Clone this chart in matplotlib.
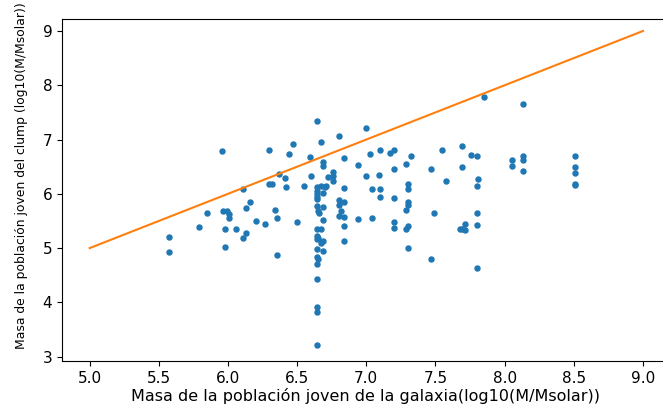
"""Masa del clump frente a masa de la galaxia (población joven)."""

import numpy as np
import matplotlib
matplotlib.use("Agg")
import matplotlib.pyplot as plt

OUT_FILE = "out.png"

# masa joven de la galaxia, log10(M/Msolar)
masa_galaxia = [
    5.57, 5.57, 5.79, 5.85, 5.955, 5.965, 5.99, 6.01, 6.01, 5.98,
    5.98, 6.06, 6.11, 6.13, 6.16, 6.13, 6.11, 6.20, 6.27, 6.30,
    6.30, 6.32, 6.34, 6.355, 6.355, 6.37, 6.41, 6.42, 6.44, 6.47,
    6.50, 6.55, 6.59, 6.60,
    6.64, 6.64, 6.64, 6.64, 6.645, 6.64, 6.64, 6.65, 6.655, 6.645,
    6.64, 6.65, 6.64, 6.64, 6.64, 6.65, 6.64, 6.64, 6.64, 6.64, 6.64,
    6.67, 6.67, 6.67, 6.67,
    6.69, 6.69, 6.71, 6.70, 6.685, 6.69, 6.69, 6.69, 6.69,
    6.72, 6.76, 6.76, 6.76, 6.80, 6.80, 6.84, 6.80, 6.82, 6.80,
    6.84, 6.84, 6.84, 6.84, 6.84, 6.94, 6.94, 7.00, 7.00, 7.03,
    7.04, 7.04, 7.09, 7.10, 7.10, 7.10, 7.17, 7.20, 7.20, 7.20,
    7.20, 7.20, 7.29, 7.32, 7.305, 7.305, 7.305, 7.305, 7.29, 7.305,
    7.29, 7.305, 7.47, 7.49, 7.47, 7.55, 7.575, 7.69, 7.69, 7.76,
    7.80, 7.81, 7.80, 7.80, 7.80, 7.80, 7.715, 7.69, 7.715, 7.68,
    7.85, 8.05, 8.05, 8.13, 8.13, 8.13, 8.13, 8.51, 8.51, 8.51,
    8.51, 8.51,
]

# masa joven del clump, log10(M/Msolar)
masa_clump = [
    5.21, 4.92, 5.38, 5.64, 6.78, 5.68, 5.68, 5.62, 5.56, 5.35,
    5.02, 5.35, 6.09, 5.74, 5.85, 5.28, 5.18, 5.50, 5.44, 6.81,
    6.18, 6.18, 5.71, 5.55, 4.88, 6.37, 6.30, 6.13, 6.74, 6.92,
    5.49, 6.15, 6.68, 6.33,
    7.35, 6.13, 6.06, 6.00, 5.95, 5.90, 5.78, 5.69, 5.65, 5.35,
    5.22, 5.19, 5.17, 4.99, 4.83, 4.80, 4.71, 4.44, 3.92, 3.83, 3.21,
    6.95, 6.15, 5.35, 5.09,
    6.58, 6.52, 6.15, 6.13, 6.02, 5.75, 5.52, 5.14, 4.95,
    6.31, 6.41, 6.33, 6.24, 7.06, 5.89, 5.85, 5.80, 5.68, 5.60,
    5.57, 6.66, 6.11, 5.40, 5.14, 6.54, 5.54, 7.21, 6.33, 6.73,
    6.08, 5.55, 6.35, 6.81, 6.08, 5.95, 6.75, 6.81, 6.46, 5.93,
    5.49, 5.37, 6.55, 6.70, 6.19, 6.08, 5.85, 5.80, 5.71, 5.41,
    5.35, 5.01, 6.46, 5.64, 4.80, 6.80, 6.23, 6.89, 6.49, 6.71,
    6.70, 6.27, 6.14, 5.64, 5.42, 4.63, 5.45, 5.36, 5.33, 5.35,
    7.78, 6.63, 6.52, 7.66, 6.70, 6.63, 6.42, 6.70, 6.50, 6.38,
    6.19, 6.16,
]

# recta de referencia y = x
recta_x = [5.0, 9.0]
recta_y = [5.0, 9.0]

x_ticks = [5.0, 5.5, 6.0, 6.5, 7.0, 7.5, 8.0, 8.5, 9.0]
y_ticks = [3, 4, 5, 6, 7, 8, 9]


def main() -> None:
    fig = plt.figure(figsize=(6.63, 4.04), dpi=100)
    ax = fig.add_axes([0.0935, 0.1064, 0.918, 0.8465])

    ax.scatter(np.array(masa_galaxia), np.array(masa_clump), s=13, color="C0")
    ax.plot(recta_x, recta_y, color="C1", linewidth=1.5)

    ax.set_xlim(4.8, 9.2)
    ax.set_ylim(2.92, 9.22)
    ax.set_xticks(x_ticks)
    ax.set_yticks(y_ticks)
    ax.tick_params(axis="x", labelsize=11)
    ax.tick_params(axis="y", labelsize=11)

    ax.set_xlabel("Masa de la población joven de la galaxia(log10(M/Msolar))",
                  fontsize=11.5)
    ax.set_ylabel("Masa de la población joven del clump (log10(M/Msolar))",
                  fontsize=8.9)
    ax.yaxis.set_label_coords(-0.056, 0.542)
    ax.xaxis.set_label_coords(0.499, -0.078)

    fig.savefig(OUT_FILE, dpi=100)


if __name__ == "__main__":
    main()
